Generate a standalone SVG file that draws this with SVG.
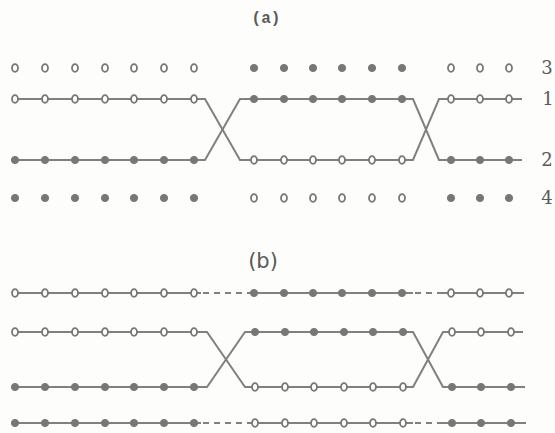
<svg xmlns="http://www.w3.org/2000/svg" xmlns:xlink="http://www.w3.org/1999/xlink" width="555" height="433" viewBox="0 0 555 433">
<style>
.ln{fill:none;stroke:#808080;stroke-width:2}
.ds{fill:none;stroke:#808080;stroke-width:2;stroke-dasharray:6 5}
.op{fill:#fff;stroke:#777;stroke-width:1.8}
.fl{fill:#777;stroke:#777;stroke-width:1}
.lbl{font-family:"DejaVu Serif",serif;fill:#5a5a5a;font-size:18px}
.ttl{font-family:"Liberation Mono",monospace;font-weight:bold;fill:#5a5a5a;font-size:16px}
</style>
<defs>
<ellipse id="o" class="op" rx="3" ry="3.8"/>
<circle id="f" class="fl" r="3.6"/>
</defs>
<rect width="555" height="433" fill="#fdfdfb"/>
<text class="ttl" x="266" y="23" text-anchor="middle">(a)</text>
<text x="263" y="268" text-anchor="middle" font-family="DejaVu Sans,sans-serif" font-size="21" fill="#5a5a5a">(b)</text>
<g id="connectors">
<path class="ln" d="M15,99 H205 L240,160 H413 L439,99 H522"/>
<path class="ln" d="M15,160 H205 L240,99 H413 L439,160 H522"/>
<path class="ln" d="M15,293 H201 M250,293 H413 M443,293 H524"/>
<path class="ds" d="M203,293 H250 M415,293 H443"/>
<path class="ln" d="M15,332 H207 L245,387 H413 L443,332 H523"/>
<path class="ln" d="M15,387 H207 L245,332 H413 L443,387 H525"/>
<path class="ln" d="M15,423 H201 M250,423 H413 M443,423 H526"/>
<path class="ds" d="M203,423 H250 M415,423 H443"/>
</g>
<g id="row-a3">
<use href="#o" x="15" y="68"/><use href="#o" x="45" y="68"/><use href="#o" x="75" y="68"/><use href="#o" x="105" y="68"/><use href="#o" x="134" y="68"/><use href="#o" x="164" y="68"/><use href="#o" x="194" y="68"/>
<use href="#f" x="254" y="68"/><use href="#f" x="284" y="68"/><use href="#f" x="313" y="68"/><use href="#f" x="342" y="68"/><use href="#f" x="372" y="68"/><use href="#f" x="402" y="68"/>
<use href="#o" x="451" y="68"/><use href="#o" x="480" y="68"/><use href="#o" x="509" y="68"/>
<text class="lbl" x="547" y="74" text-anchor="middle">3</text>
</g>
<g id="row-a1">
<use href="#o" x="15" y="99"/><use href="#o" x="45" y="99"/><use href="#o" x="75" y="99"/><use href="#o" x="105" y="99"/><use href="#o" x="134" y="99"/><use href="#o" x="164" y="99"/><use href="#o" x="194" y="99"/>
<use href="#f" x="254" y="99"/><use href="#f" x="284" y="99"/><use href="#f" x="313" y="99"/><use href="#f" x="342" y="99"/><use href="#f" x="372" y="99"/><use href="#f" x="402" y="99"/>
<use href="#o" x="451" y="99"/><use href="#o" x="480" y="99"/><use href="#o" x="509" y="99"/>
<text class="lbl" x="548" y="105" text-anchor="middle">1</text>
</g>
<g id="row-a2">
<use href="#f" x="15" y="160"/><use href="#f" x="45" y="160"/><use href="#f" x="75" y="160"/><use href="#f" x="105" y="160"/><use href="#f" x="134" y="160"/><use href="#f" x="164" y="160"/><use href="#f" x="194" y="160"/>
<use href="#o" x="254" y="160"/><use href="#o" x="284" y="160"/><use href="#o" x="313" y="160"/><use href="#o" x="342" y="160"/><use href="#o" x="372" y="160"/><use href="#o" x="402" y="160"/>
<use href="#f" x="451" y="160"/><use href="#f" x="480" y="160"/><use href="#f" x="509" y="160"/>
<text class="lbl" x="547" y="166" text-anchor="middle">2</text>
</g>
<g id="row-a4">
<use href="#f" x="15" y="198"/><use href="#f" x="45" y="198"/><use href="#f" x="75" y="198"/><use href="#f" x="105" y="198"/><use href="#f" x="134" y="198"/><use href="#f" x="164" y="198"/><use href="#f" x="194" y="198"/>
<use href="#o" x="254" y="198"/><use href="#o" x="284" y="198"/><use href="#o" x="313" y="198"/><use href="#o" x="342" y="198"/><use href="#o" x="372" y="198"/><use href="#o" x="402" y="198"/>
<use href="#f" x="451" y="198"/><use href="#f" x="480" y="198"/><use href="#f" x="509" y="198"/>
<text class="lbl" x="547" y="204" text-anchor="middle">4</text>
</g>
<g id="row-b1">
<use href="#o" x="15" y="293"/><use href="#o" x="45" y="293"/><use href="#o" x="75" y="293"/><use href="#o" x="105" y="293"/><use href="#o" x="134" y="293"/><use href="#o" x="164" y="293"/><use href="#o" x="194" y="293"/>
<use href="#f" x="254" y="293"/><use href="#f" x="284" y="293"/><use href="#f" x="313" y="293"/><use href="#f" x="342" y="293"/><use href="#f" x="372" y="293"/><use href="#f" x="402" y="293"/>
<use href="#o" x="451" y="293"/><use href="#o" x="480" y="293"/><use href="#o" x="509" y="293"/>
</g>
<g id="row-b2">
<use href="#o" x="15" y="332"/><use href="#o" x="45" y="332"/><use href="#o" x="75" y="332"/><use href="#o" x="105" y="332"/><use href="#o" x="134" y="332"/><use href="#o" x="164" y="332"/><use href="#o" x="194" y="332"/>
<use href="#f" x="255" y="332"/><use href="#f" x="285" y="332"/><use href="#f" x="314" y="332"/><use href="#f" x="344" y="332"/><use href="#f" x="373" y="332"/><use href="#f" x="403" y="332"/>
<use href="#o" x="452" y="332"/><use href="#o" x="481" y="332"/><use href="#o" x="511" y="332"/>
</g>
<g id="row-b3">
<use href="#f" x="15" y="387"/><use href="#f" x="45" y="387"/><use href="#f" x="75" y="387"/><use href="#f" x="105" y="387"/><use href="#f" x="134" y="387"/><use href="#f" x="164" y="387"/><use href="#f" x="194" y="387"/>
<use href="#o" x="255" y="387"/><use href="#o" x="285" y="387"/><use href="#o" x="314" y="387"/><use href="#o" x="344" y="387"/><use href="#o" x="373" y="387"/><use href="#o" x="403" y="387"/>
<use href="#f" x="452" y="387"/><use href="#f" x="481" y="387"/><use href="#f" x="511" y="387"/>
</g>
<g id="row-b4">
<use href="#f" x="15" y="423"/><use href="#f" x="45" y="423"/><use href="#f" x="75" y="423"/><use href="#f" x="105" y="423"/><use href="#f" x="134" y="423"/><use href="#f" x="164" y="423"/><use href="#f" x="194" y="423"/>
<use href="#o" x="255" y="423"/><use href="#o" x="285" y="423"/><use href="#o" x="314" y="423"/><use href="#o" x="344" y="423"/><use href="#o" x="373" y="423"/><use href="#o" x="403" y="423"/>
<use href="#f" x="452" y="423"/><use href="#f" x="481" y="423"/><use href="#f" x="511" y="423"/>
</g>
</svg>
